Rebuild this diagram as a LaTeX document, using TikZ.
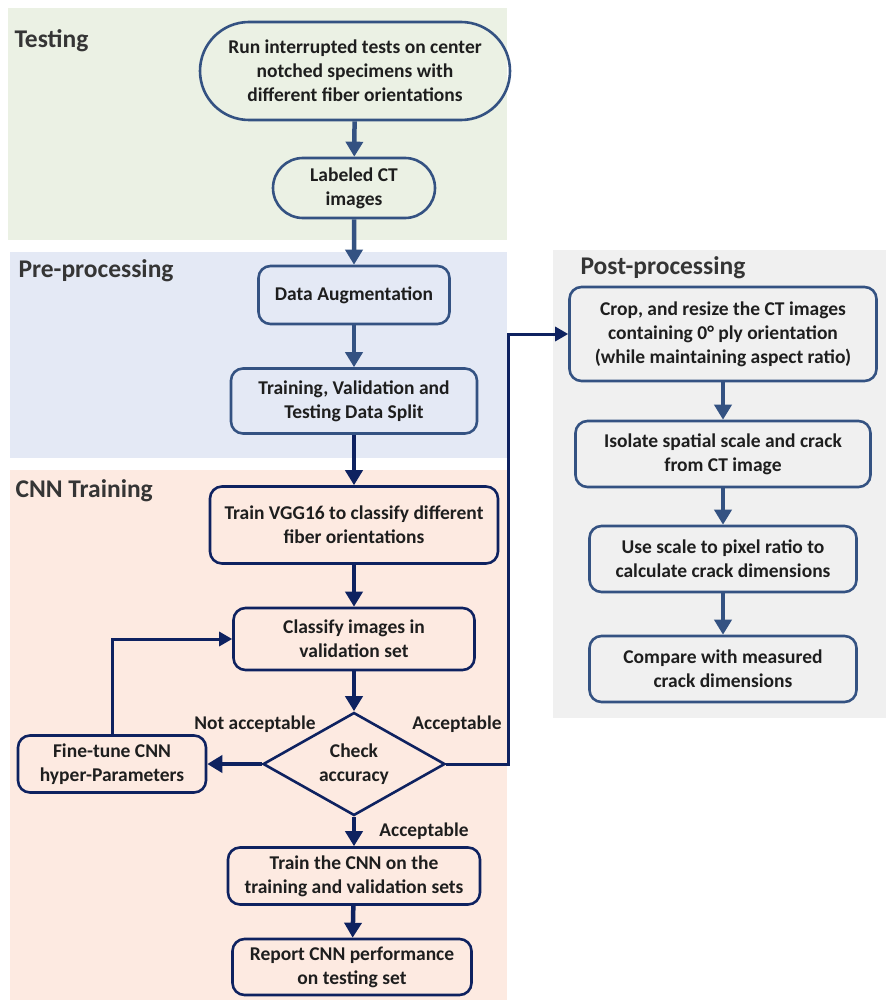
\documentclass[tikz,border=0pt]{standalone}
\usepackage{fontspec}
\setmainfont{Carlito}
\usetikzlibrary{shapes.misc,shapes.geometric,arrows.meta}

\definecolor{testbg}{RGB}{235,241,228}
\definecolor{prebg}{RGB}{228,233,245}
\definecolor{cnnbg}{RGB}{253,234,225}
\definecolor{postbg}{RGB}{240,240,240}
\definecolor{steel}{RGB}{52,82,130}
\definecolor{navy}{RGB}{14,34,96}
\definecolor{ink}{RGB}{30,30,30}

\tikzset{
  stage/.style={draw=steel, line width=2.6pt, rounded corners=12pt, align=center,
    text=ink, font=\fontsize{19.5}{24}\selectfont\bfseries, inner sep=0pt},
  terminal/.style={stage, rounded rectangle, rounded corners=0pt},
  cnnstage/.style={stage, draw=navy},
  decision/.style={diamond, draw=navy, line width=2.6pt, aspect=1.77, align=center,
    text=ink, font=\fontsize{19.5}{24}\selectfont\bfseries, inner sep=0pt},
  flow/.style={draw=steel, line width=4.5pt, -{Triangle[length=15pt,width=17pt]}},
  cnnflow/.style={flow, draw=navy},
  loopback/.style={draw=navy, line width=3pt, -{Triangle[length=13pt,width=14pt]}},
  heading/.style={anchor=west, text=ink!90!white, font=\fontsize{25.5}{30}\selectfont\bfseries},
  verdict/.style={text=ink, font=\fontsize{19.4}{22}\selectfont\bfseries}
}

\begin{document}
\begin{tikzpicture}[x=1pt, y=-1pt]
    \useasboundingbox (0,0) rectangle (886,1003);

    % stage backgrounds
    \fill[testbg] (8,8) rectangle (507,240);
    \fill[prebg] (10,252) rectangle (507,458);
    \fill[cnnbg] (10,470) rectangle (507,1000);
    \fill[postbg] (553,250) rectangle (886,718);

    \node[heading] (h1) at (11,41) {Testing};
    \node[heading] (h2) at (15,271) {Pre-processing};
    \node[heading] (h3) at (12,491) {CNN Training};
    \node[heading] (h4) at (577,268) {Post-processing};

    % testing and pre-processing
    \node[terminal, minimum width=310pt, minimum height=98pt] (run) at (355,71)
        {Run interrupted tests on center\\notched specimens with\\different fiber orientations};
    \node[terminal, minimum width=162pt, minimum height=60pt] (lab) at (354,188)
        {Labeled CT\\images};
    \node[stage, minimum width=191pt, minimum height=58pt] (aug) at (354,295)
        {Data Augmentation};
    \node[stage, minimum width=246pt, minimum height=65pt] (split) at (354,401)
        {Training, Validation and\\Testing Data Split};

    % CNN training
    \node[cnnstage, minimum width=288pt, minimum height=77pt] (vgg) at (354,525)
        {Train VGG16 to classify different\\fiber orientations};
    \node[cnnstage, minimum width=241pt, minimum height=62pt] (cls) at (354,639)
        {Classify images in\\validation set};
    \node[decision, minimum width=182pt, minimum height=103pt] (chk) at (354,764)
        {Check\\accuracy};
    \node[cnnstage, minimum width=188pt, minimum height=57pt] (tune) at (112,764)
        {Fine-tune CNN\\hyper-Parameters};
    \node[cnnstage, minimum width=252pt, minimum height=57pt] (full) at (354,876)
        {Train the CNN on the\\training and validation sets};
    \node[cnnstage, minimum width=239pt, minimum height=56pt] (rep) at (352,967)
        {Report CNN performance\\on testing set};

    % post-processing
    \node[stage, minimum width=307pt, minimum height=94pt] (crop) at (723,334)
        {Crop, and resize the CT images\\containing 0° ply orientation\\(while maintaining aspect ratio)};
    \node[stage, minimum width=295pt, minimum height=66pt] (iso) at (723,454)
        {Isolate spatial scale and crack\\from CT image};
    \node[stage, minimum width=267pt, minimum height=66pt] (pix) at (723,559)
        {Use scale to pixel ratio to\\calculate crack dimensions};
    \node[stage, minimum width=267pt, minimum height=66pt] (cmp) at (723,669)
        {Compare with measured\\crack dimensions};

    \coordinate (riser) at (508,334);

    \draw[flow] (run) -- (lab);
    \draw[flow] (lab) -- (aug);
    \draw[flow] (aug) -- (split);
    \draw[cnnflow] (split) -- (vgg);
    \draw[cnnflow] (vgg) -- (cls);
    \draw[cnnflow] (cls) -- (chk);
    \draw[cnnflow] (chk.west) -- (tune.east);
    \draw[cnnflow] (chk.south) -- (full);
    \draw[cnnflow] (full) -- (rep);
    \draw[loopback] (tune.north) |- (cls.west);
    \draw[loopback] (chk.east) -| (riser) -- (crop.west);
    \draw[flow] (crop) -- (iso);
    \draw[flow] (iso) -- (pix);
    \draw[flow] (pix) -- (cmp);

    \node[verdict] (no) at (255,724) {Not acceptable};
    \node[verdict] (yes) at (457,724) {Acceptable};
    \node[verdict] (yes2) at (424,831) {Acceptable};
\end{tikzpicture}
\end{document}
